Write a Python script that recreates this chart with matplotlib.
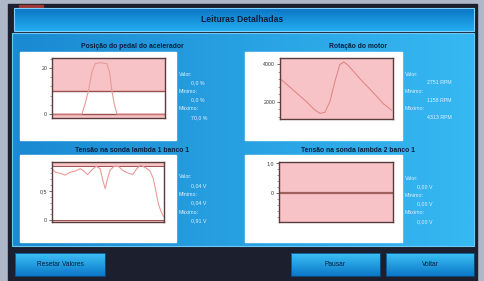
import numpy as np
import matplotlib
matplotlib.use("Agg")
import matplotlib.pyplot as plt
from matplotlib.patches import Rectangle
from matplotlib.ticker import AutoMinorLocator, FixedLocator

plt.rcParams['font.family'] = ['Liberation Sans Narrow', 'Liberation Sans', 'DejaVu Sans']

# ---------------- data ----------------
screen_title = "Leituras Detalhadas"
chart_titles = ["Posição do pedal do acelerador", "Rotação do motor",
                "Tensão na sonda lambda 1 banco 1", "Tensão na sonda lambda 2 banco 1"]

pedal_t = [0, 26.5, 29.4, 32.4, 35.3, 38.2, 42.6, 48.5, 50.9, 52.9, 55.0, 57.4, 100]
pedal_v = [0, 0, 4.6, 10.4, 18.3, 21.9, 22.3, 21.9, 18.3, 10.4, 4.6, 0, 0]
pedal_limits = [0, 10]
pedal_ticks = [0, 20]
pedal_tick_labels = ["0", "20"]
pedal_stats = ["0,0 %", "0,0 %", "70,0 %"]

rpm_t = [0, 11.8, 23.5, 30.9, 35.3, 39.7, 44.1, 48.5, 52.9, 56.5, 60.3, 70.6, 82.4, 91.2, 98.5]
rpm_v = [3228, 2614, 2000, 1561, 1386, 1439, 2000, 3053, 3965, 4105, 3930, 3228, 2491, 1912, 1561]
rpm_ticks = [2000, 4000]
rpm_tick_labels = ["2000", "4000"]
rpm_stats = ["2751 RPM", "1158 RPM", "4313 RPM"]

lam1_t = [0, 3.0, 7.4, 11.9, 16.3, 20.8, 25.2, 28.2, 31.8, 35.6, 39.5, 43.0, 45.4, 47.5,
          49.6, 51.9, 55.5, 59.3, 63.2, 67.4, 72.1, 75.7, 79.2, 83.1, 87.5, 90.5, 92.6,
          95.0, 97.0, 99.4]
lam1_v = [0.88, 0.82, 0.80, 0.77, 0.82, 0.84, 0.88, 0.84, 0.78, 0.86, 0.92, 0.88, 0.68,
          0.54, 0.71, 0.86, 0.92, 0.92, 0.85, 0.81, 0.78, 0.88, 0.94, 0.90, 0.84, 0.71,
          0.51, 0.28, 0.17, 0.07]
lam1_limits = [0.0, 0.92]
lam1_ticks = [0, 0.5]
lam1_tick_labels = ["0", "0,5"]
lam1_stats = ["0,04 V", "0,04 V", "0,91 V"]

lam2_t = [0, 100]
lam2_v = [0.0, 0.0]
lam2_ticks = [0, 1.0]
lam2_tick_labels = ["0", "1,0"]
lam2_stats = ["0,00 V", "0,00 V", "0,00 V"]

stat_labels = ["Valor:", "Mínimo:", "Máximo:"]
buttons = ["Resetar Valores", "Pausar", "Voltar"]

# ---------------- figure ----------------
W, H = 485, 281
fig = plt.figure(figsize=(W / 100, H / 100), dpi=100)
bg = fig.add_axes([0, 0, 1, 1])
bg.set_xlim(0, W)
bg.set_ylim(H, 0)
bg.axis('off')

def grad(ax, x0, x1, y0, y1, c0, c1, vertical=False, z=1, n=64):
    c0 = np.array(matplotlib.colors.to_rgb(c0))
    c1 = np.array(matplotlib.colors.to_rgb(c1))
    s = np.linspace(0, 1, n)
    g = c0[None, :] * (1 - s[:, None]) + c1[None, :] * s[:, None]
    img = g[:, None, :] if vertical else g[None, :, :]
    ax.imshow(img, extent=(x0, x1, y1, y0), aspect='auto', zorder=z, interpolation='bilinear')

# outer background
bg.add_patch(Rectangle((0, 0), W, H, color='#aeb8c8', zorder=0))
bg.add_patch(Rectangle((8, 4), 469, 277, color='#1b1f2e', zorder=0.5))
bg.add_patch(Rectangle((19, 5), 24, 1.5, color='#a03535', zorder=0.6))

# title bar
grad(bg, 14, 474, 8, 31, '#0b74c4', '#24aef0', vertical=True, z=1)
bg.add_patch(Rectangle((14, 8), 460, 23, fill=False, ec='#7fd0ff', lw=0.8, zorder=2))
bg.text(W / 2, 20, screen_title, ha='center', va='center', fontsize=6.2,
        fontweight='bold', color='#0a1f3d', zorder=3)

# main panel
grad(bg, 12, 474, 33, 246, '#1a8ad2', '#36b8f2', vertical=False, z=1)
bg.add_patch(Rectangle((12, 33), 462, 213, fill=False, ec='#6cc8f5', lw=0.8, zorder=2))

# white chart panels
panels = [(20, 52, 156, 88), (245, 52, 157, 88), (20, 155, 156, 87), (245, 155, 157, 87)]
title_pos = [(132, 47), (358, 47), (132, 150), (358, 150)]
for (x, y, w, h), (tx, ty), t in zip(panels, title_pos, chart_titles):
    bg.add_patch(Rectangle((x, y), w, h, color='white', zorder=2))
    bg.text(tx, ty, t, ha='center', va='center', fontsize=4.9, fontweight='bold',
            color='#0a1f3d', zorder=3)

# stats texts
stat_x = [(179, 191), (405, 427), (179, 191), (405, 417)]
stat_y0 = [74, 74, 177, 178]
all_stats = [pedal_stats, rpm_stats, lam1_stats, lam2_stats]
for (lx, vx), y0, stats in zip(stat_x, stat_y0, all_stats):
    for i, (lab, val) in enumerate(zip(stat_labels, stats)):
        yy = y0 + i * 17.5
        bg.text(lx, yy, lab, ha='left', va='center', fontsize=3.8, color='#dff3ff', zorder=3)
        bg.text(vx, yy + 8.5, val, ha='left', va='center', fontsize=3.8, color='#dff3ff', zorder=3)

# buttons
btn_boxes = [(15, 253, 90, 23), (291, 253, 89, 23), (386, 253, 88, 23)]
for (x, y, w, h), label in zip(btn_boxes, buttons):
    grad(bg, x, x + w, y, y + h, '#3cc0f6', '#0b78c8', vertical=True, z=1)
    bg.add_patch(Rectangle((x, y), w, h, fill=False, ec='#0a4f8a', lw=0.6, zorder=2))
    bg.text(x + w / 2, y + h / 2, label, ha='center', va='center', fontsize=4.8,
            color='#0a1f3d', zorder=3)

# ---------------- charts ----------------
def px_axes(x0, y0, x1, y1):
    return fig.add_axes([x0 / W, 1 - y1 / H, (x1 - x0) / W, (y1 - y0) / H])

fill = '#f8c3c6'
lim_col = '#9a5050'
curve = '#e99a9a'
spine_col = '#5a3c3c'

def style(ax, ylim, ticks, labels):
    ax.set_xlim(0, 100)
    ax.set_ylim(*ylim)
    ax.set_facecolor('white')
    ax.set_xticks([])
    ax.yaxis.set_major_locator(FixedLocator(ticks))
    ax.set_yticklabels(labels)
    ax.yaxis.set_minor_locator(AutoMinorLocator(5))
    ax.tick_params(axis='y', which='major', length=2.5, width=0.5, labelsize=3.8,
                   pad=1, colors='#333333')
    ax.tick_params(axis='y', which='minor', length=1.5, width=0.4, colors='#555555')
    for s in ax.spines.values():
        s.set_color(spine_col)
        s.set_linewidth(1.0)

# pedal
ax = px_axes(52, 58, 165, 118)
yl = (-1.74, 24.35)
ax.axhspan(pedal_limits[1], yl[1], color=fill, lw=0)
ax.axhspan(yl[0], pedal_limits[0], color=fill, lw=0)
for l in pedal_limits:
    ax.axhline(l, color=lim_col, lw=1.0)
ax.plot(pedal_t, pedal_v, color=curve, lw=0.8)
style(ax, yl, pedal_ticks, pedal_tick_labels)

# rpm
ax = px_axes(280, 58, 393, 119)
yl = (1088, 4316)
ax.axhspan(yl[0], yl[1], color=fill, lw=0)
ax.plot(rpm_t, rpm_v, color='#e08888', lw=0.8)
style(ax, yl, rpm_ticks, rpm_tick_labels)

# lambda 1
ax = px_axes(52, 162, 164, 222)
yl = (-0.028, 0.994)
ax.axhspan(lam1_limits[1], yl[1], color=fill, lw=0)
ax.axhspan(yl[0], lam1_limits[0], color=fill, lw=0)
for l in lam1_limits:
    ax.axhline(l, color=lim_col, lw=0.7)
ax.plot(lam1_t, lam1_v, color=curve, lw=0.8)
style(ax, yl, lam1_ticks, lam1_tick_labels)

# lambda 2
ax = px_axes(279, 162, 393, 222)
yl = (-0.97, 1.03)
ax.axhspan(yl[0], yl[1], color=fill, lw=0)
ax.plot(lam2_t, lam2_v, color='#a06060', lw=1.6)
style(ax, yl, lam2_ticks, lam2_tick_labels)

fig.savefig("out.png", dpi=100)
